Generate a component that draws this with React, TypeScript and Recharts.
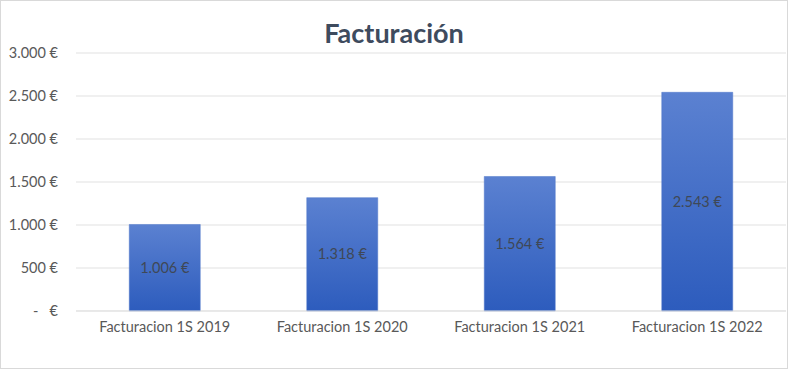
import React from "react";
import { BarChart, Bar, XAxis, YAxis, CartesianGrid, LabelList } from "recharts";

const categories = [
  "Facturacion 1S 2019",
  "Facturacion 1S 2020",
  "Facturacion 1S 2021",
  "Facturacion 1S 2022",
];
const facturacion = [1006, 1318, 1564, 2543];
const yTicks = [0, 500, 1000, 1500, 2000, 2500, 3000];

const data = categories.map((name, i) => ({ name, value: facturacion[i] }));

const euro = (v: number) =>
  v === 0 ? "-\u00a0\u00a0\u00a0€" : v.toString().replace(/\B(?=(\d{3})+(?!\d))/g, ".") + " €";

const font = "Lato, 'Open Sans', sans-serif";

export default function App() {
  return (
    <div
      style={{
        position: "absolute",
        left: 0,
        top: 0,
        width: 788,
        height: 369,
        background: "#fff",
        border: "1px solid #d9d9d9",
        boxSizing: "border-box",
        fontFamily: font,
      }}
    >
      <div
        style={{
          position: "absolute",
          top: 15,
          left: 0,
          width: 786,
          textAlign: "center",
          fontSize: 27,
          fontWeight: 700,
          color: "#3e4b5e",
        }}
      >
        Facturación
      </div>
      <div style={{ position: "absolute", left: -1, top: -1 }}>
        <BarChart
          width={788}
          height={369}
          data={data}
          margin={{ top: 53, right: 2, bottom: 28, left: 0 }}
          barCategoryGap="30%"
        >
          <defs>
            <linearGradient id="barFill" x1="0" y1="0" x2="0" y2="1">
              <stop offset="0%" stopColor="#5b81d1" />
              <stop offset="100%" stopColor="#2d5cbd" />
            </linearGradient>
          </defs>
          <CartesianGrid vertical={false} stroke="#e1e1e1" />
          <XAxis
            dataKey="name"
            height={30}
            tickLine={false}
            axisLine={{ stroke: "#e1e1e1" }}
            tick={{ fill: "#595959", fontSize: 14.5, fontFamily: font, dy: 3 }}
            interval={0}
          />
          <YAxis
            width={76}
            domain={[0, 3000]}
            ticks={yTicks}
            tickFormatter={euro}
            tickLine={false}
            axisLine={false}
            tick={{ fill: "#595959", fontSize: 14.5, fontFamily: font, dx: -10 }}
          />
          <Bar dataKey="value" fill="url(#barFill)" stroke="#4f76c8" strokeWidth={0.5} isAnimationActive={false}>
            <LabelList
              dataKey="value"
              position="center"
              formatter={(v: number) => euro(v)}
              style={{ fill: "#3f4856", fontSize: 14.5, fontFamily: font }}
            />
          </Bar>
        </BarChart>
      </div>
    </div>
  );
}
